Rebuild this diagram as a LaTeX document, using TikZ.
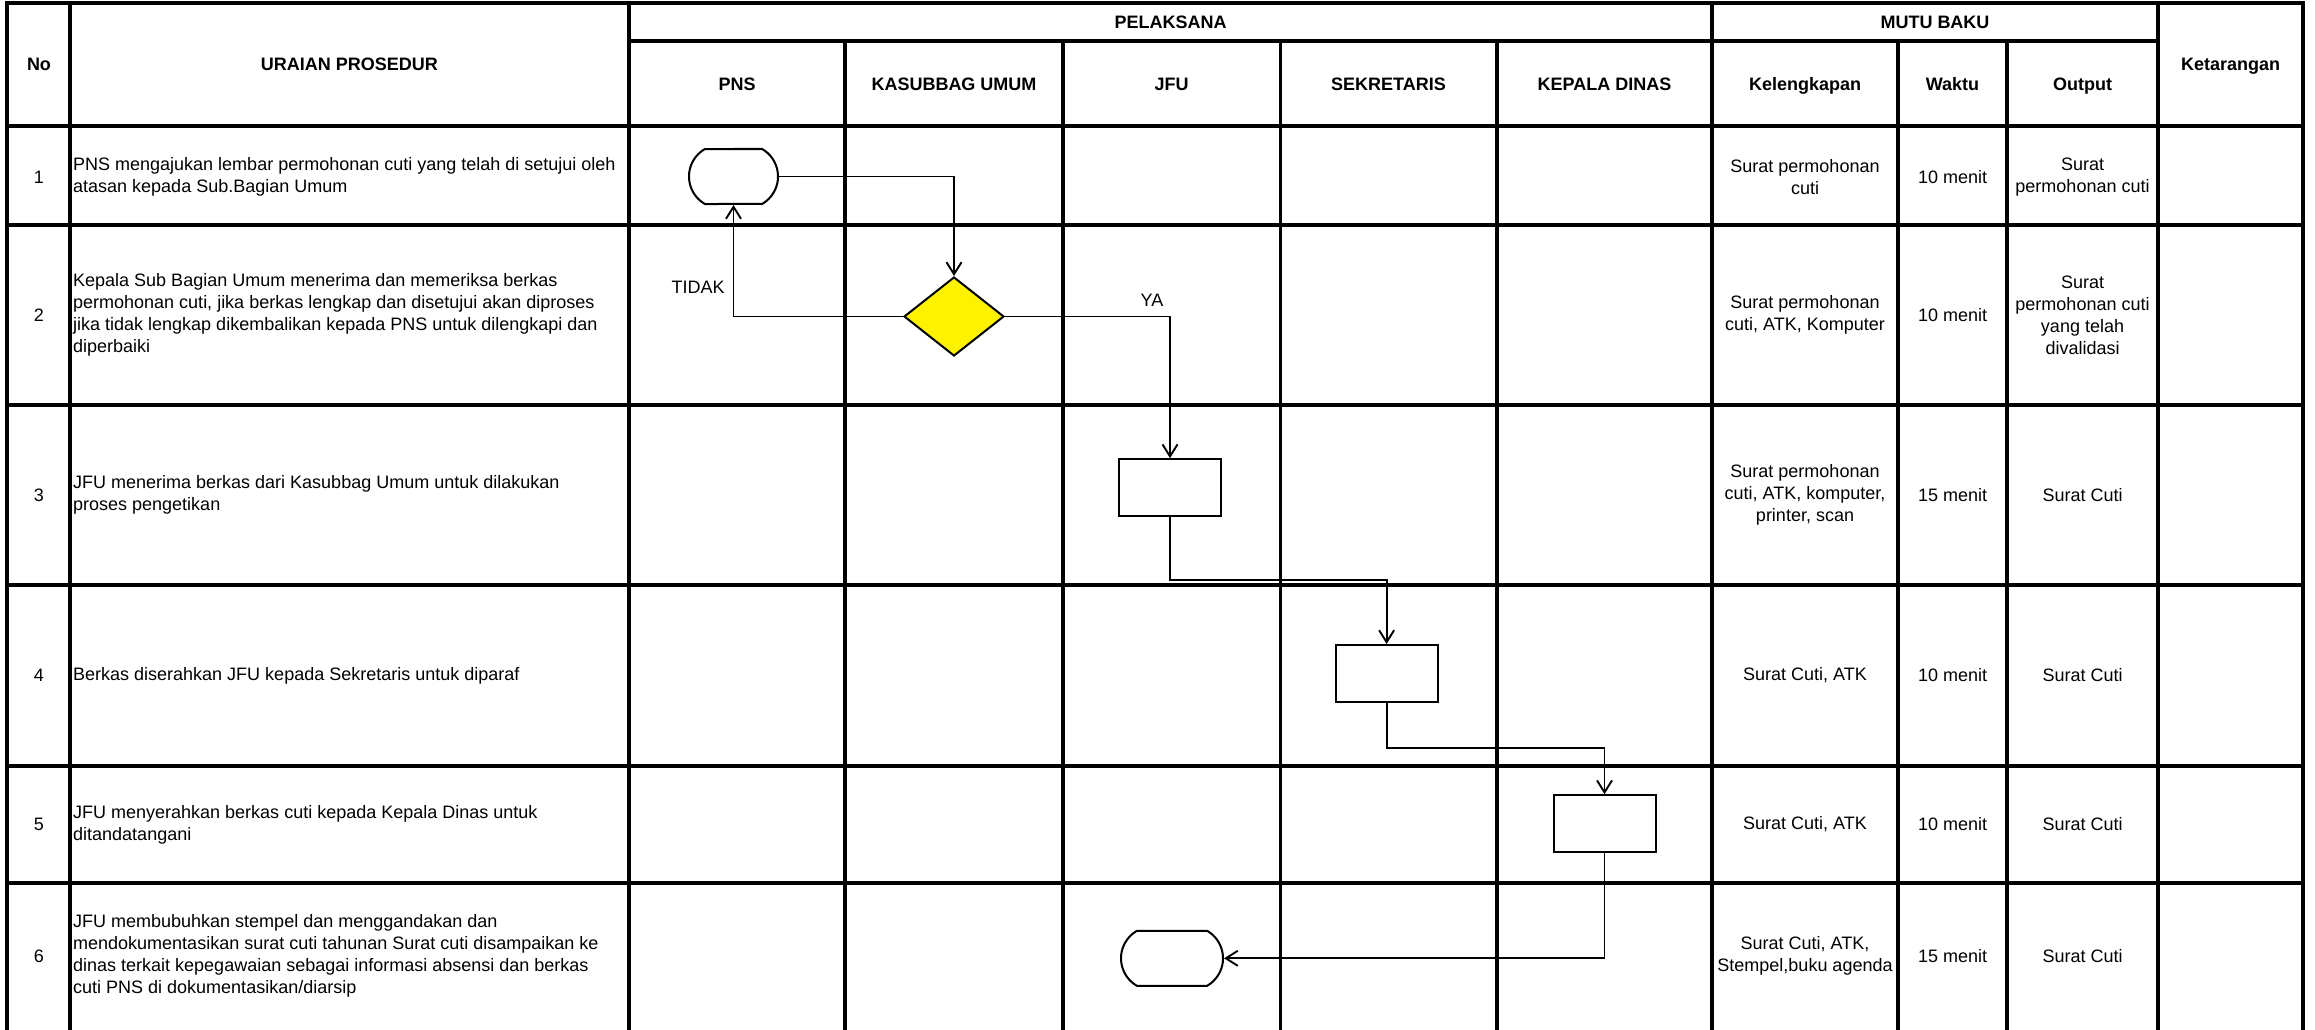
\documentclass[tikz,border=0pt]{standalone}
\usepackage{fontspec}
\setmainfont{Liberation Sans}
\usetikzlibrary{arrows.meta,shapes.geometric,shapes.misc}

\newcommand\cellfont{\fontsize{18}{22}\selectfont}

\begin{document}
\begin{tikzpicture}[x=1pt,y=-1pt,
  gridline/.style={line width=3.2pt},
  txt/.style={font=\cellfont, inner sep=0pt, align=center},
  headtxt/.style={font=\cellfont\bfseries, inner sep=0pt, align=center},
  desc/.style={font=\cellfont, inner sep=0pt, anchor=west, align=left},
  procbox/.style={draw, line width=2pt, minimum width=102pt, minimum height=57pt, inner sep=0pt},
  termbox/.style={draw, rounded rectangle, rounded rectangle arc length=120, line width=2pt, inner sep=0pt, minimum height=55pt},
  decbox/.style={draw, diamond, fill=yellow, line width=2pt, minimum width=100pt, minimum height=79pt, inner sep=0pt},
  flow/.style={line width=1.9pt, -{Straight Barb[length=12pt,width=15pt]}},
]
\useasboundingbox (0,0) rectangle (2315,1030);

% ---- table frame (open at the bottom edge) ----
\draw[gridline] (7,1034) -- (7,3) -- (2303,3) -- (2303,1034);
\foreach \yy in {126,225,405,585,766,883}
  \draw[gridline] (7,\yy) -- (2303,\yy);
\foreach \xx in {70,629,1712,2158}
  \draw[gridline] (\xx,3) -- (\xx,1034);
\foreach \xx in {845,1063,1280.5,1497,1898,2007}
  \draw[gridline] (\xx,41) -- (\xx,1034);
\draw[gridline] (629,41) -- (2158,41);

% ---- header ----
\node[headtxt, anchor=base] (hNo) at (39,71) {No};
\node[headtxt, anchor=base] (hUraian) at (349.5,71) {URAIAN PROSEDUR};
\node[headtxt] (hPel) at (1170.5,22) {PELAKSANA};
\node[headtxt] (hMutu) at (1935,22) {MUTU BAKU};
\node[headtxt, anchor=base] (hKet) at (2230.5,71) {Ketarangan};
\node[headtxt, anchor=base] (hPNS) at (737,90.5) {PNS};
\node[headtxt, anchor=base] (hKas) at (954,90.5) {KASUBBAG UMUM};
\node[headtxt, anchor=base] (hJFU) at (1171.5,90.5) {JFU};
\node[headtxt, anchor=base] (hSek) at (1388.5,90.5) {SEKRETARIS};
\node[headtxt, anchor=base] (hKep) at (1604.5,90.5) {KEPALA DINAS};
\node[headtxt, anchor=base] (hKel) at (1805,90.5) {Kelengkapan};
\node[headtxt, anchor=base] (hWak) at (1952.5,90.5) {Waktu};
\node[headtxt, anchor=base] (hOut) at (2082.5,90.5) {Output};

% ---- row numbers ----
\node[txt] (n1) at (39,177) {1};
\node[txt] (n2) at (39,315) {2};
\node[txt] (n3) at (39,495) {3};
\node[txt] (n4) at (39,675.5) {4};
\node[txt] (n5) at (39,824.5) {5};
\node[txt] (n6) at (39,956) {6};

% ---- procedure descriptions ----
\node[desc] (u1) at (73,177) {PNS mengajukan lembar permohonan cuti yang telah di setujui oleh\\atasan kepada Sub.Bagian Umum};
\node[desc] (u2) at (73,315) {Kepala Sub Bagian Umum menerima dan memeriksa berkas\\permohonan cuti, jika berkas lengkap dan disetujui akan diproses\\jika tidak lengkap dikembalikan kepada PNS untuk dilengkapi dan\\diperbaiki};
\node[desc] (u3) at (73,495) {JFU menerima berkas dari Kasubbag Umum untuk dilakukan\\proses pengetikan};
\node[desc] (u4) at (73,675.5) {Berkas diserahkan JFU kepada Sekretaris untuk diparaf};
\node[desc] (u5) at (73,824.5) {JFU menyerahkan berkas cuti kepada Kepala Dinas untuk\\ditandatangani};
\node[desc] (u6) at (73,956) {JFU membubuhkan stempel dan menggandakan dan\\mendokumentasikan surat cuti tahunan Surat cuti disampaikan ke\\dinas terkait kepegawaian sebagai informasi absensi dan berkas\\cuti PNS di dokumentasikan/diarsip};

% ---- quality standard columns ----
\node[txt] (k1) at (1805,177) {Surat permohonan\\cuti};
\node[txt] (w1) at (1952.5,177) {10 menit};
\node[txt] (o1) at (2082.5,177) {Surat\\permohonan cuti};
\node[txt] (k2) at (1805,315) {Surat permohonan\\cuti, ATK, Komputer};
\node[txt] (w2) at (1952.5,315) {10 menit};
\node[txt] (o2) at (2082.5,315) {Surat\\permohonan cuti\\yang telah\\divalidasi};
\node[txt] (k3) at (1805,495) {Surat permohonan\\cuti, ATK, komputer,\\printer, scan};
\node[txt] (w3) at (1952.5,495) {15 menit};
\node[txt] (o3) at (2082.5,495) {Surat Cuti};
\node[txt] (k4) at (1805,675.5) {Surat Cuti, ATK};
\node[txt] (w4) at (1952.5,675.5) {10 menit};
\node[txt] (o4) at (2082.5,675.5) {Surat Cuti};
\node[txt] (k5) at (1805,824.5) {Surat Cuti, ATK};
\node[txt] (w5) at (1952.5,824.5) {10 menit};
\node[txt] (o5) at (2082.5,824.5) {Surat Cuti};
\node[txt] (k6) at (1805,956) {Surat Cuti, ATK,\\Stempel,buku agenda};
\node[txt] (w6) at (1952.5,956) {15 menit};
\node[txt] (o6) at (2082.5,956) {Surat Cuti};

% ---- flowchart symbols ----
\node[termbox, minimum width=89pt] (t1) at (733.5,176.5) {};
\node[decbox] (d2) at (954,316.5) {};
\node[procbox] (b3) at (1170,487.7) {};
\node[procbox] (b4) at (1386.6,673.5) {};
\node[procbox] (b5) at (1604.5,823.7) {};
\node[termbox, minimum width=102pt] (t6) at (1172,958.3) {};

% ---- connectors ----
\draw[flow] (t1.east) -| (d2.north);
\draw[flow] (d2.west) -| (t1.south);
\draw[flow] (d2.east) -| (b3.north);
\draw[flow] (b3.south) -- (b3.south |- 0,580) -| (b4.north);
\draw[flow] (b4.south) -- (b4.south |- 0,748.3) -| (b5.north);
\draw[flow] (b5.south) |- (t6.east);

% ---- branch labels ----
\node[txt] (lTidak) at (698,287) {TIDAK};
\node[txt] (lYa) at (1152,300) {YA};
\end{tikzpicture}
\end{document}
